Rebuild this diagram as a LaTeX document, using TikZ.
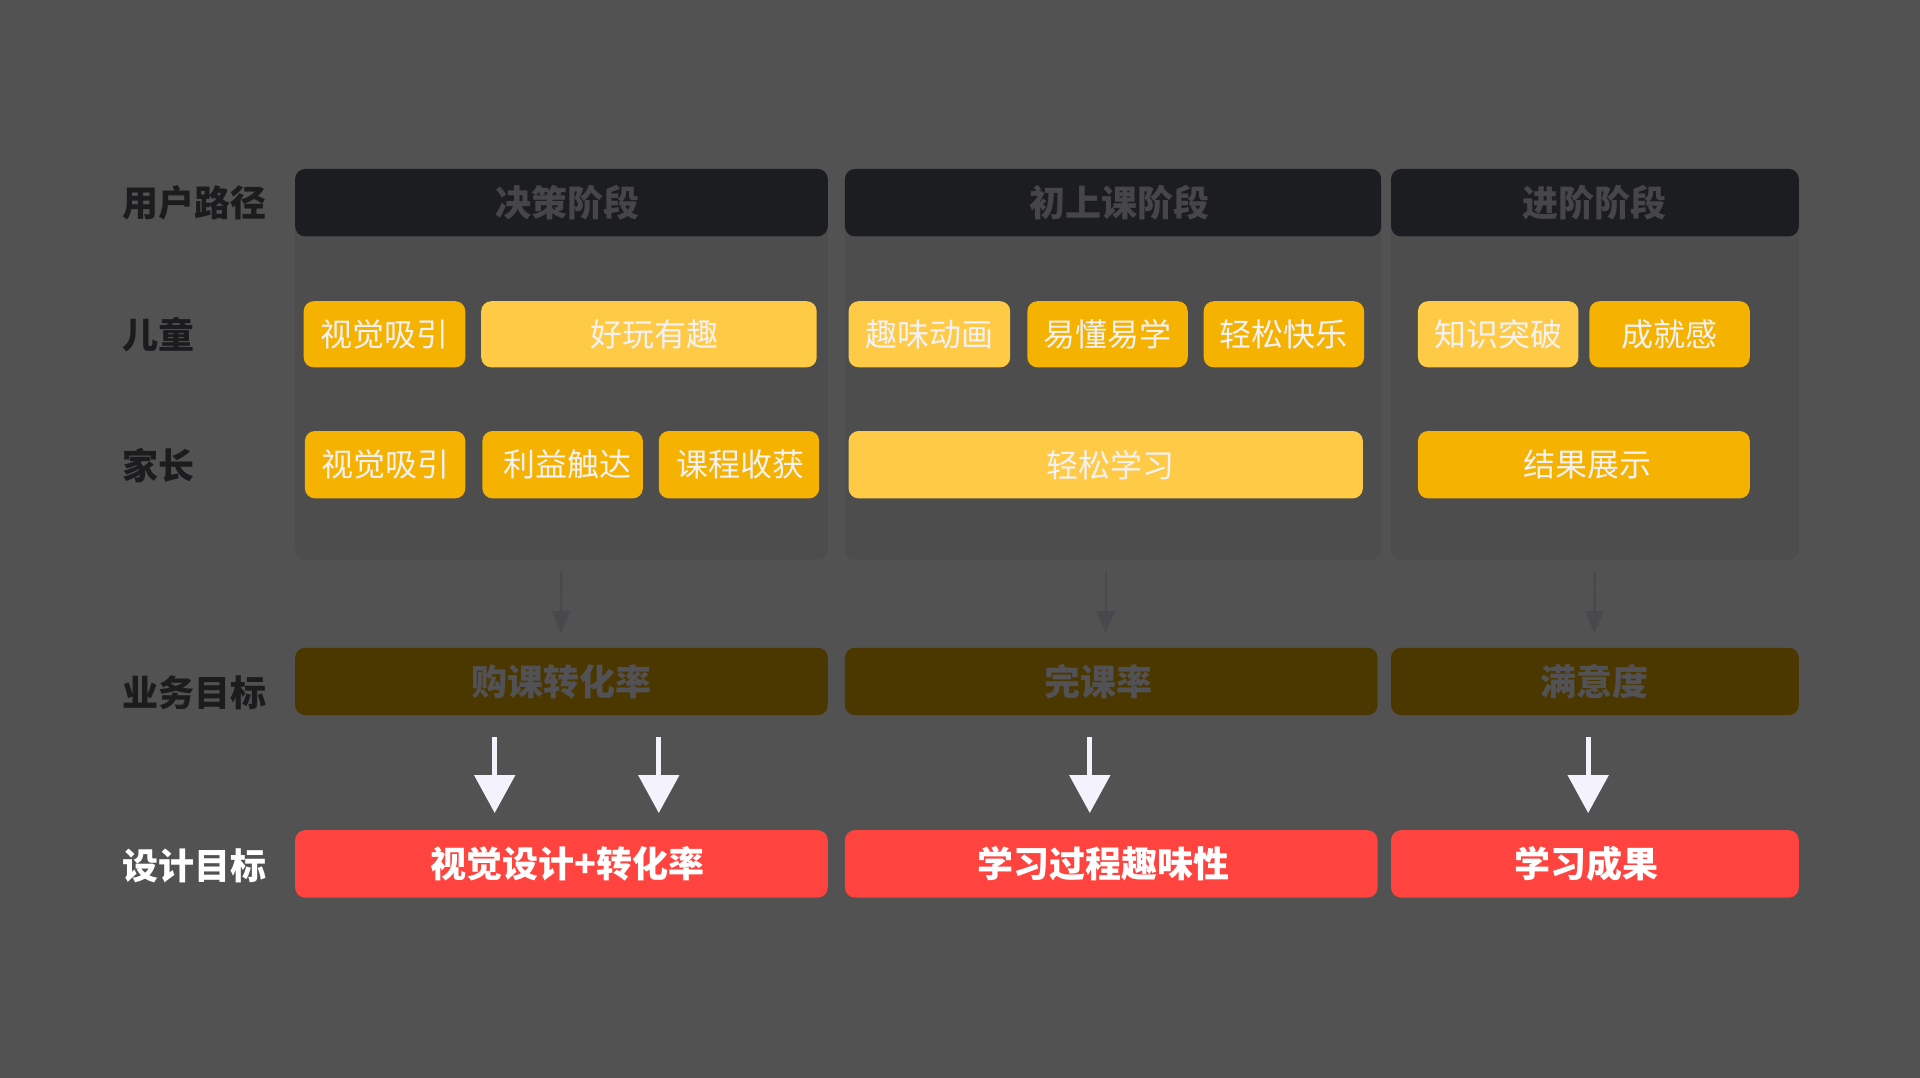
\documentclass[tikz,border=0pt]{standalone}
\usepackage{fontspec}
\setmainfont{Noto Sans CJK SC}
\usetikzlibrary{arrows.meta}
\definecolor{bgc}{HTML}{525252}
\definecolor{panelc}{HTML}{4C4D4C}
\definecolor{headc}{HTML}{1C1D21}
\definecolor{headtxt}{HTML}{46464A}
\definecolor{labc}{HTML}{1C1C1E}
\definecolor{ydark}{HTML}{F5B200}
\definecolor{ylight}{HTML}{FFCB47}
\definecolor{boxtxt}{HTML}{F2F2F5}
\definecolor{bizc}{HTML}{4B3700}
\definecolor{biztxt}{HTML}{525256}
\definecolor{redc}{HTML}{FF443F}
\definecolor{arrw}{HTML}{F4F2FC}
\definecolor{faintc}{HTML}{48494D}
\def\u{0.61224pt}
\newcommand\bx[7]{\node[#1, minimum width={(#4-#3)*\u}, minimum height={(#6-#5)*\u}] (#2) at ({(#3+#4)/2},{(#5+#6)/2}) {#7};}
\newcommand\tsh[1]{\hspace*{#1}}
\tikzset{
  base/.style={rounded corners=5pt, inner sep=0pt, outer sep=0pt},
  panelbox/.style={base, fill=panelc},
  headbox/.style={base, fill=headc, text=headtxt, font=\fontsize{18}{18}\selectfont\bfseries},
  darkbox/.style={base, fill=ydark, text=boxtxt, font=\fontsize{16}{16}\selectfont},
  lightbox/.style={base, fill=ylight, text=boxtxt, font=\fontsize{16}{16}\selectfont},
  bizbox/.style={base, fill=bizc, text=biztxt, font=\fontsize{18}{18}\selectfont\bfseries},
  redbox/.style={base, fill=redc, text=white, font=\fontsize{18}{18}\selectfont\bfseries},
  rowlabel/.style={anchor=west, inner sep=0pt, text=labc, font=\fontsize{18}{18}\selectfont\bfseries},
  faint/.style={draw=faintc, line width=1.2pt, -{Triangle[width=9pt,length=11pt]}},
  bigarrow/.style={draw=arrw, fill=arrw, line width=2.6pt, -{Triangle[width=20pt,length=19pt]}}
}
\begin{document}
\begin{tikzpicture}[x=0.61224pt, y=-0.61224pt]
\fill[bgc] (0,0) rectangle (1568,880);
\useasboundingbox (0,0) rectangle (1568,880);
% row labels
\node[rowlabel] (l1) at (100,166) {用户路径};
\node[rowlabel] (l2) at (100,273) {儿童};
\node[rowlabel] (l3) at (100,380) {家长};
\node[rowlabel] (l4) at (100,566) {业务目标};
\node[rowlabel, text=white] (l5) at (100,707) {设计目标};
% panels
\bx{panelbox}{p1}{241}{676}{138}{457}{}
\bx{panelbox}{p2}{690}{1128}{138}{457}{}
\bx{panelbox}{p3}{1136}{1469}{138}{457}{}
% headers
\bx{headbox}{h1}{241}{676}{138}{193}{\tsh{6pt}决策阶段}
\bx{headbox}{h2}{690}{1128}{138}{193}{\tsh{6pt}初上课阶段}
\bx{headbox}{h3}{1136}{1469}{138}{193}{进阶阶段}
% children row
\bx{darkbox}{k1}{248}{380}{246}{300}{视觉吸引}
\bx{lightbox}{k2}{393}{667}{246}{300}{\tsh{6pt}好玩有趣}
\bx{lightbox}{k3}{693}{825}{246}{300}{趣味动画}
\bx{darkbox}{k4}{839}{970}{246}{300}{易懂易学}
\bx{darkbox}{k5}{983}{1114}{246}{300}{轻松快乐}
\bx{lightbox}{k6}{1158}{1289}{246}{300}{知识突破}
\bx{darkbox}{k7}{1298}{1429}{246}{300}{成就感}
% parents row
\bx{darkbox}{f1}{249}{380}{352}{407}{视觉吸引}
\bx{darkbox}{f2}{394}{525}{352}{407}{\tsh{5pt}利益触达}
\bx{darkbox}{f3}{538}{669}{352}{407}{\tsh{2pt}课程收获}
\bx{lightbox}{f4}{693}{1113}{352}{407}{\tsh{5pt}轻松学习}
\bx{darkbox}{f5}{1158}{1429}{352}{407}{\tsh{4pt}结果展示}
% business goals
\bx{bizbox}{b1}{241}{676}{529}{584}{购课转化率}
\bx{bizbox}{b2}{690}{1125}{529}{584}{\tsh{-12.8pt}完课率}
\bx{bizbox}{b3}{1136}{1469}{529}{584}{满意度}
% design goals
\bx{redbox}{d1}{241}{676}{678}{733}{\tsh{6pt}视觉设计+转化率}
\bx{redbox}{d2}{690}{1125}{678}{733}{\tsh{-7.3pt}学习过程趣味性}
\bx{redbox}{d3}{1136}{1469}{678}{733}{\tsh{-8pt}学习成果}
% faint arrows
\draw[faint] ([shift={(0,10)}]p1.south) -- ([shift={(-0.5,-12)}]b1.north);
\draw[faint] ([shift={(-6,10)}]p2.south) -- ([shift={(-4.5,-12)}]b2.north);
\draw[faint] ([shift={(0,10)}]p3.south) -- ([shift={(-0.5,-12)}]b3.north);
% white arrows
\draw[bigarrow] ([shift={(-54.5,18)}]b1.south) -- ([shift={(-54.5,-14)}]d1.north);
\draw[bigarrow] ([shift={(79.5,18)}]b1.south) -- ([shift={(79.5,-14)}]d1.north);
\draw[bigarrow] ([shift={(-17.5,18)}]b2.south) -- ([shift={(-17.5,-14)}]d2.north);
\draw[bigarrow] ([shift={(-5.5,18)}]b3.south) -- ([shift={(-5.5,-14)}]d3.north);
\end{tikzpicture}
\end{document}
